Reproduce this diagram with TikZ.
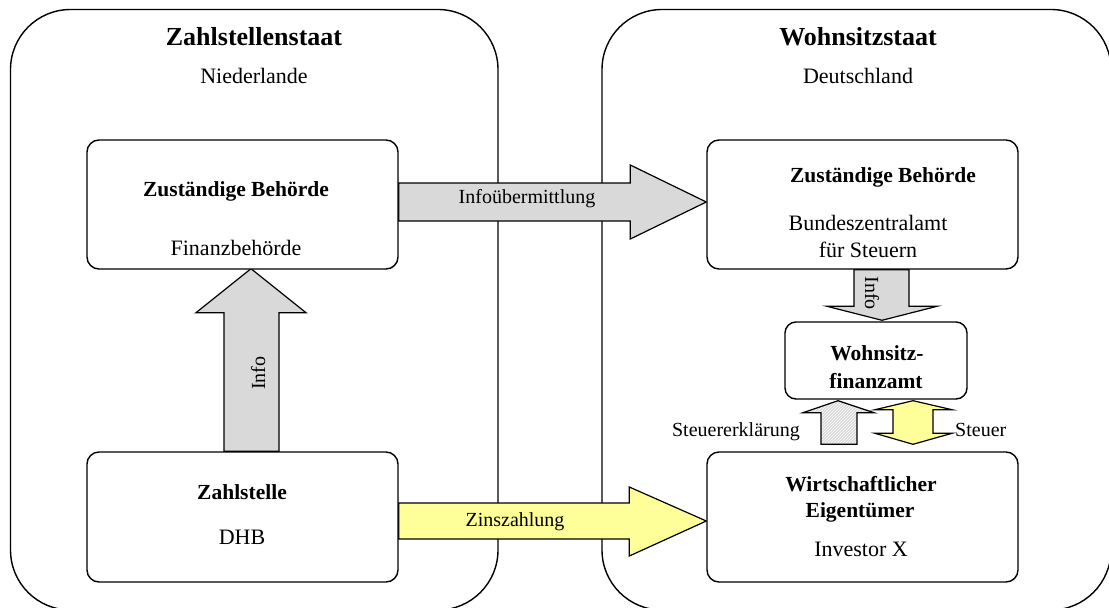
\documentclass[tikz,border=0pt]{standalone}
\usepackage{fontspec}
\setmainfont{Liberation Serif}
\usetikzlibrary{calc,patterns}
\definecolor{argray}{HTML}{D9D9D9}
\definecolor{aryel}{HTML}{FFFF99}
\pgfdeclarelayer{back}
\pgfdeclarelayer{mid}
\pgfsetlayers{back,mid,main}
\tikzset{
  statebox/.style={draw, line width=1.4pt, rounded corners=60pt, inner sep=0pt},
  innerbox/.style={draw, line width=1.4pt, rounded corners=12pt, fill=white, inner sep=0pt},
  blk/.style={draw, line width=1.2pt, line join=miter},
  grayarrow/.style={blk, fill=argray},
  yelarrow/.style={blk, fill=aryel},
  hatcharrow/.style={blk, preaction={fill=argray}, pattern=north east lines, pattern color=white},
  titletxt/.style={font=\fontsize{26}{30}\selectfont\bfseries, anchor=base, inner sep=0pt},
  bodytxt/.style={font=\fontsize{22}{26}\selectfont, anchor=base, inner sep=0pt},
  boldtxt/.style={font=\fontsize{21.5}{26}\selectfont\bfseries, anchor=base, inner sep=0pt},
  labtxt/.style={font=\fontsize{20}{24}\selectfont, anchor=base, inner sep=0pt},
}
\begin{document}
\begin{tikzpicture}[x=1pt, y=-1pt]
\path[use as bounding box] (0,0) rectangle (1109,608);
\clip (0,0) rectangle (1109,608);

% states
\begin{pgfonlayer}{back}
\node[statebox, minimum width=487.5pt, minimum height=600.5pt] (ls) at (254.25,309.75) {};
\node[statebox, minimum width=509pt, minimum height=600.5pt] (rs) at (856.5,309.75) {};
\end{pgfonlayer}
\node[titletxt] (lst) at (254,45) {Zahlstellenstaat};
\node[bodytxt] (lsn) at (254,83) {Niederlande};
\node[titletxt] (rst) at (858,45) {Wohnsitzstaat};
\node[bodytxt] (rsn) at (858,83) {Deutschland};

% inner boxes
\node[innerbox, minimum width=311pt, minimum height=129pt] (zbl) at (242.5,204.5) {};
\node[innerbox, minimum width=311pt, minimum height=129pt] (zbr) at (862.5,204.5) {};
\node[innerbox, minimum width=311pt, minimum height=130pt] (zs) at (242.5,517) {};
\node[innerbox, minimum width=311pt, minimum height=130pt] (we) at (862.5,517) {};
\node[innerbox, minimum width=182pt, minimum height=77pt, rounded corners=11pt] (wfa) at (876,360.5) {};

\node[boldtxt] (zbl1) at (236,196) {Zuständige Behörde};
\node[bodytxt] (zbl2) at (236,255) {Finanzbehörde};
\node[boldtxt] (zbr1) at (883,182) {Zuständige Behörde};
\node[bodytxt] (zbr2) at (868,230) {Bundeszentralamt};
\node[bodytxt] (zbr3) at (868,257) {für Steuern};
\node[boldtxt] (zs1) at (242,499) {Zahlstelle};
\node[bodytxt] (zs2) at (242,544) {DHB};
\node[boldtxt] (we1) at (861,491) {Wirtschaftlicher};
\node[boldtxt] (we2) at (860,517) {Eigentümer};
\node[bodytxt] (we3) at (861,556) {Investor X};
\node[boldtxt] (wfa1) at (877,360) {Wohnsitz-};
\node[boldtxt] (wfa2) at (876,388) {finanzamt};

% arrows
\begin{pgfonlayer}{mid}
\draw[grayarrow] ($(zbl.east)+(0,-21.5)$) -- ($(zbr.west)+(-76,-21.5)$) -- ($(zbr.west)+(-76,-39.5)$)
  -- ($(zbr.west)+(0,-2.5)$) -- ($(zbr.west)+(-76,34.5)$) -- ($(zbr.west)+(-76,16.5)$)
  -- ($(zbl.east)+(0,16.5)$) -- cycle;
\draw[grayarrow] ($(zs.north)+(-18.5,0)$) -- ($(zbl.south)+(-18.5,43)$) -- ($(zbl.south)+(-46.5,43)$)
  -- ($(zbl.south)+(8.5,-1)$) -- ($(zbl.south)+(63.5,43)$) -- ($(zbl.south)+(36.5,43)$)
  -- ($(zs.north)+(36.5,0)$) -- cycle;
\draw[grayarrow] ($(zbr.south)+(-8.5,0)$) -- ($(wfa.north)+(-22,-15)$) -- ($(wfa.north)+(-49,-15)$)
  -- ($(wfa.north)+(6,-1)$) -- ($(wfa.north)+(61,-15)$) -- ($(wfa.north)+(33,-15)$)
  -- ($(zbr.south)+(46.5,0)$) -- cycle;
\draw[hatcharrow] ($(we.north)+(-41.5,-7)$) -- ($(wfa.south)+(-55,13)$) -- ($(wfa.south)+(-73,13)$)
  -- ($(wfa.south)+(-38,1)$) -- ($(wfa.south)+(-2,13)$) -- ($(wfa.south)+(-19,13)$)
  -- ($(we.north)+(-5.5,-7)$) -- cycle;
\draw[yelarrow] ($(wfa.south)+(37,1)$) -- ($(wfa.south)+(76,10)$) -- ($(wfa.south)+(57,10)$)
  -- ($(we.north)+(70.5,-18)$) -- ($(we.north)+(89.5,-18)$) -- ($(we.north)+(50.5,-7)$)
  -- ($(we.north)+(12.5,-18)$) -- ($(we.north)+(30.5,-18)$) -- ($(wfa.south)+(17,10)$)
  -- ($(wfa.south)+(-1,10)$) -- cycle;
\draw[yelarrow] ($(zs.east)+(0,-14)$) -- ($(we.west)+(-77,-14)$) -- ($(we.west)+(-77,-30)$)
  -- ($(we.west)+(0,4)$) -- ($(we.west)+(-77,39)$) -- ($(we.west)+(-77,22)$)
  -- ($(zs.east)+(0,22)$) -- cycle;
\end{pgfonlayer}

\node[labtxt] (lInfoU) at (527,203) {Infoübermittlung};
\node[labtxt] (lZins) at (515,526) {Zinszahlung};
\node[labtxt, rotate=90] (lInfoL) at (265,373) {Info};
\node[labtxt, rotate=-90] (lInfoR) at (865,293) {Info};
\node[labtxt, anchor=base east] (lSE) at (800,436) {Steuererklärung};
\node[labtxt, anchor=base west] (lSt) at (955,436) {Steuer};
\end{tikzpicture}
\end{document}
